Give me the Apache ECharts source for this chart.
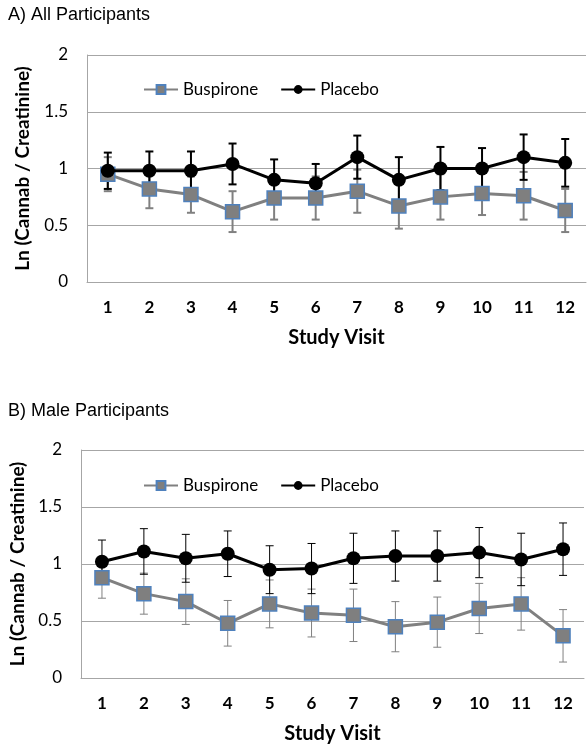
<!DOCTYPE html>
<html><head><meta charset="utf-8">
<script src="https://cdn.jsdelivr.net/npm/echarts@6/dist/echarts.min.js"></script>
<style>html,body{margin:0;padding:0;background:#fff}#c{width:588px;height:750px}</style>
</head><body><div id="c"></div>
<script>
const visits = ['1','2','3','4','5','6','7','8','9','10','11','12'];
const yTicks = [0, 0.5, 1, 1.5, 2];
// Panel A: All participants
const buspA = [0.95,0.82,0.77,0.62,0.74,0.74,0.80,0.67,0.75,0.78,0.76,0.63];
const buspAErr = [0.15,0.17,0.16,0.18,0.19,0.19,0.19,0.20,0.20,0.19,0.21,0.19];
const placA = [0.98,0.98,0.98,1.04,0.90,0.87,1.10,0.90,1.00,1.00,1.10,1.05];
const placAErr = [0.16,0.17,0.17,0.18,0.18,0.17,0.19,0.20,0.19,0.18,0.20,0.21];
// Panel B: Male participants
const buspB = [0.88,0.74,0.67,0.48,0.65,0.57,0.55,0.45,0.49,0.61,0.65,0.37];
const buspBErr = [0.18,0.18,0.20,0.20,0.21,0.21,0.23,0.22,0.22,0.22,0.23,0.23];
const placB = [1.02,1.11,1.05,1.09,0.95,0.96,1.05,1.07,1.07,1.10,1.04,1.13];
const placBErr = [0.19,0.20,0.21,0.20,0.21,0.22,0.22,0.22,0.22,0.22,0.23,0.23];

const chart = echarts.init(document.getElementById('c'));
const numFont = 'Lato';
const GRAY = '#808080';

function errData(vals, errs){ return vals.map((v,i)=>[i, v, errs[i]]); }
function errSeries(vals, errs, color, width, axisIdx, name){
  return {
    type:'custom', name: name, xAxisIndex: axisIdx, yAxisIndex: axisIdx, z: 1,
    data: errData(vals, errs), encode:{x:0,y:1}, silent:true,
    renderItem: function(params, api){
      const i = api.value(0), v = api.value(1), e = api.value(2);
      const hi = api.coord([i, v+e]), lo = api.coord([i, v-e]);
      const cw = 4;
      const st = {stroke: color, lineWidth: width};
      return {type:'group', children:[
        {type:'line', shape:{x1:hi[0],y1:hi[1],x2:lo[0],y2:lo[1]}, style:st},
        {type:'line', shape:{x1:hi[0]-cw,y1:hi[1],x2:hi[0]+cw,y2:hi[1]}, style:st},
        {type:'line', shape:{x1:lo[0]-cw,y1:lo[1],x2:lo[0]+cw,y2:lo[1]}, style:st}
      ]};
    }
  };
}
function buspSeries(vals, idx){
  return {type:'line', name:'Buspirone', xAxisIndex:idx, yAxisIndex:idx, data: vals, z:3,
    symbol:'rect', symbolSize:14,
    itemStyle:{color:'#7f7f7f', borderColor:'#4f81bd', borderWidth:1.5},
    lineStyle:{color:GRAY, width:3}};
}
function placSeries(vals, idx){
  return {type:'line', name:'Placebo', xAxisIndex:idx, yAxisIndex:idx, data: vals, z:4,
    symbol:'circle', symbolSize:14,
    itemStyle:{color:'#000'}, lineStyle:{color:'#000', width:3}};
}
function xAx(idx){
  return {type:'category', gridIndex: idx, data: visits, boundaryGap:true,
    axisLine:{lineStyle:{color:'#a6a6a6', width:1}}, axisTick:{show:false},
    axisLabel:{fontFamily:numFont, fontWeight:'bold', fontSize:17, color:'#000', margin:17},
    name:'Study Visit', nameLocation:'middle', nameGap:46,
    nameTextStyle:{fontFamily:numFont, fontWeight:'bold', fontSize:20, color:'#000'}};
}
function yAx(idx, gap){
  return {type:'value', gridIndex: idx, min:0, max:2, interval:0.5,
    axisLine:{show:true, lineStyle:{color:'#a6a6a6', width:1}}, axisTick:{show:false},
    splitLine:{lineStyle:{color:'#a6a6a6', width:1}},
    axisLabel:{fontFamily:numFont, fontSize:17, color:'#000', margin:19,
      formatter: v => String(yTicks.find(t=>Math.abs(t-v)<1e-9) ?? v)},
    name:'Ln (Cannab / Creatinine)', nameLocation:'middle', nameRotate:90, nameGap:gap,
    nameTextStyle:{fontFamily:numFont, fontWeight:'bold', fontSize:19, color:'#000'}};
}
const legendCommon = {itemWidth:34, itemHeight:11, itemGap:22, data:['Buspirone','Placebo'],
  textStyle:{fontFamily:numFont, fontSize:17, color:'#000'}};

chart.setOption({
  animation:false,
  title:[
    {text:'A) All Participants', left:3, top:1, textStyle:{fontFamily:'Liberation Sans', fontWeight:'normal', fontSize:18, color:'#000'}},
    {text:'B) Male Participants', left:3, top:397, textStyle:{fontFamily:'Liberation Sans', fontWeight:'normal', fontSize:18, color:'#000'}}
  ],
  legend:[
    Object.assign({left:138, top:76}, legendCommon),
    Object.assign({left:138, top:472}, legendCommon)
  ],
  grid:[
    {left:87, top:55, width:499, height:227},
    {left:81, top:450, width:503, height:228}
  ],
  xAxis:[xAx(0), xAx(1)],
  yAxis:[yAx(0, 55), yAx(1, 49)],
  series:[
    errSeries(buspA, buspAErr, GRAY, 2, 0, 'eb'),
    errSeries(placA, placAErr, '#000', 2, 0, 'ep'),
    buspSeries(buspA, 0), placSeries(placA, 0),
    errSeries(buspB, buspBErr, GRAY, 1, 1, 'eb2'),
    errSeries(placB, placBErr, '#000', 1, 1, 'ep2'),
    buspSeries(buspB, 1), placSeries(placB, 1)
  ]
});
</script></body></html>
